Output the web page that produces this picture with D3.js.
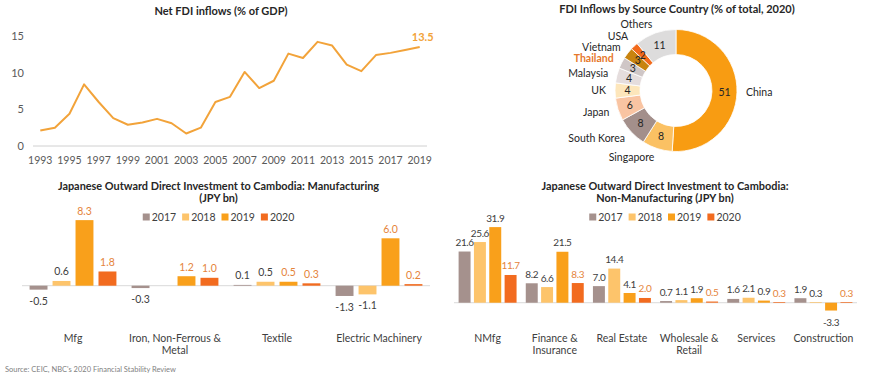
<!DOCTYPE html>
<html><head><meta charset="utf-8">
<script src="https://cdn.jsdelivr.net/npm/d3@7"></script>
<style>
html,body{margin:0;padding:0;background:#fff;}
svg{display:block;font-family:Lato,"Open Sans",sans-serif;}
</style></head>
<body>
<svg id="c" width="870" height="378"></svg>
<script>
// ---------- DATA ----------
const fdiYears = d3.range(1993, 2020);
const fdiValues = [2.1,2.5,4.4,8.4,6.0,3.8,2.9,3.2,3.7,3.1,1.7,2.5,6.0,6.7,10.1,7.9,8.9,12.6,12.0,14.2,13.7,11.1,10.2,12.4,12.7,13.1,13.5];
const fdiYTicks = [0,5,10,15];

const srcCountries = ["China","Singapore","South Korea","Japan","UK","Malaysia","Thailand","Vietnam","USA","Others"];
const srcShares    = [51,8,8,6,4,4,3,3,2,11];

const seriesYears = ["2017","2018","2019","2020"];

const mfgCategories = ["Mfg","Iron, Non-Ferrous & Metal","Textile","Electric Machinery"];
const mfg2017 = [-0.5,-0.3,0.1,-1.3];
const mfg2018 = [0.6,null,0.5,-1.1];
const mfg2019 = [8.3,1.2,0.5,6.0];
const mfg2020 = [1.8,1.0,0.3,0.2];

const nmfCategories = ["NMfg","Finance & Insurance","Real Estate","Wholesale & Retail","Services","Construction"];
const nmf2017 = [21.6,8.2,7.0,0.7,1.6,1.9];
const nmf2018 = [25.6,6.6,14.4,1.1,2.1,0.3];
const nmf2019 = [31.9,21.5,4.1,1.9,0.9,-3.3];
const nmf2020 = [11.7,8.3,2.0,0.5,0.3,0.3];

// ---------- STYLE ----------
const seriesColors = {"2017":"#A5918D","2018":"#FDC46B","2019":"#F9A01B","2020":"#F26B1F"};
const donutColors = ["#F89C12","#FBC163","#A38F8B","#F9C4A2","#FDE6BB","#E5DDDD","#CFC6C6","#C8830F","#F26A1B","#DDDCDC"];
const dark = "#404040", orangeText = "#E5843A";

const svg = d3.select("#c");

// ---------- LINE CHART ----------
(function(){
  const x = d3.scalePoint(fdiYears, [33,427]).padding(0.5);
  const y = d3.scaleLinear([0,15],[146,36]);
  const g = svg.append("g");
  g.append("text").attr("x",221).attr("y",15).attr("text-anchor","middle")
    .attr("font-size",11).attr("font-weight","bold").attr("fill","#262626").text("Net FDI inflows (% of GDP)");
  g.append("line").attr("x1",33).attr("x2",427).attr("y1",y(0)).attr("y2",y(0)).attr("stroke","#D0D0D0");
  g.selectAll(".yt").data(fdiYTicks).join("text").attr("x",24).attr("y",d=>y(d)+4)
    .attr("text-anchor","end").attr("font-size",11).attr("fill","#595959").text(d=>d);
  g.selectAll(".xt").data(fdiYears.filter((d,i)=>i%2===0)).join("text")
    .attr("x",d=>x(d)).attr("y",164).attr("text-anchor","middle").attr("font-size",10.5).attr("fill","#595959").text(d=>d);
  const line = d3.line().x((d,i)=>x(fdiYears[i])).y(d=>y(d));
  g.append("path").datum(fdiValues).attr("d",line).attr("fill","none").attr("stroke","#F2A33A").attr("stroke-width",2).attr("stroke-linejoin","round");
  const last = fdiValues.length-1;
  g.append("text").attr("x",x(fdiYears[last])+3).attr("y",y(fdiValues[last])-6).attr("text-anchor","middle")
    .attr("font-size",11).attr("font-weight","bold").attr("fill","#F2A33A").text(fdiValues[last].toFixed(1));
})();

// ---------- DONUT ----------
(function(){
  const cx=676, cy=90.5, ro=61, ri=36;
  const g = svg.append("g");
  g.append("text").attr("x",677).attr("y",13).attr("text-anchor","middle")
    .attr("font-size",11).attr("font-weight","bold").attr("fill","#262626").text("FDI Inflows by Source Country (% of total, 2020)");
  const data = srcCountries.map((c,i)=>({c, v:srcShares[i], i}));
  const arcs = d3.pie().value(d=>d.v).sort(null)(data);
  const arc = d3.arc().innerRadius(ri).outerRadius(ro);
  const mid = d3.arc().innerRadius((ri+ro)/2).outerRadius((ri+ro)/2);
  const gg = g.append("g").attr("transform",`translate(${cx},${cy})`);
  gg.selectAll("path").data(arcs).join("path").attr("d",arc).attr("fill",d=>donutColors[d.data.i]).attr("stroke","#fff").attr("stroke-width",0.8);
  gg.selectAll(".v").data(arcs).join("text").attr("transform",d=>`translate(${mid.centroid(d)})`)
    .attr("dy","0.35em").attr("text-anchor","middle").attr("font-size",10.5).attr("fill","#262626").text(d=>d.data.v);
  // outside labels, radial placement with simple vertical dodge on the left side
  const rl = 70;
  const labs = arcs.map(d=>{
    const a=(d.startAngle+d.endAngle)/2;
    return {d, x:rl*Math.sin(a), y:-rl*Math.cos(a), left:Math.sin(a)<0};
  });
  const left = labs.filter(l=>l.left && l.d.data.c!=="Others").sort((a,b)=>b.y-a.y);
  for(let k=1;k<left.length;k++){ if(left[k].y > left[k-1].y-11) left[k].y = left[k-1].y-11; }
  gg.selectAll(".l").data(labs).join("text")
    .attr("x",l=>l.x).attr("y",l=>l.y).attr("text-anchor",l=>l.left?"end":"start")
    .attr("dy","0.35em").attr("font-size",10.5)
    .attr("font-weight",l=>l.d.data.c==="Thailand"?"bold":"normal")
    .attr("fill",l=>l.d.data.c==="Thailand"?"#E6782B":"#262626").text(l=>l.d.data.c);
})();

// ---------- BAR CHARTS ----------
function wrap(sel, width){
  sel.each(function(){
    const t=d3.select(this), words=t.text().split(" "), x=t.attr("x"), y=t.attr("y");
    t.text(null);
    let line=[], ln=0, ts=t.append("tspan").attr("x",x).attr("y",y);
    for(const w of words){
      line.push(w); ts.text(line.join(" "));
      if(ts.node().getComputedTextLength()>width && line.length>1){
        line.pop(); ts.text(line.join(" ")); line=[w]; ln++;
        ts=t.append("tspan").attr("x",x).attr("y",+y+ln*12.4).text(w);
      }
    }
  });
}
function barChart(o){
  const g = svg.append("g");
  o.title.forEach((t,i)=>g.append("text").attr("x",o.cx).attr("y",o.titleY+i*12).attr("text-anchor","middle")
    .attr("font-size",10.9).attr("font-weight","bold").attr("fill","#262626").text(t));
  // legend
  const lg = g.append("g");
  let lx=0;
  seriesYears.forEach(s=>{
    lg.append("rect").attr("x",lx).attr("y",-3.5).attr("width",7).attr("height",7).attr("fill",seriesColors[s]);
    const t=lg.append("text").attr("x",lx+9).attr("y",4).attr("font-size",10.5).attr("fill",dark).text(s);
    lx += 9 + t.node().getComputedTextLength() + 6;
  });
  lx -= 6;
  lg.attr("transform",`translate(${o.cx-lx/2},${o.legendY})`);
  const x0 = d3.scaleBand(o.categories,o.xr);
  const x1 = d3.scaleBand(seriesYears,[0,x0.bandwidth()]).paddingInner(0.22).paddingOuter(o.po);
  const y = d3.scaleLinear(o.yd,o.yr);
  g.append("line").attr("x1",o.xr[0]).attr("x2",o.xr[1]).attr("y1",y(0)).attr("y2",y(0)).attr("stroke","#D9D9D9");
  const rows=[];
  o.categories.forEach((c,i)=>seriesYears.forEach((s,j)=>{ const v=o.values[j][i]; if(v!==null) rows.push({c,s,v}); }));
  g.selectAll(".b").data(rows).join("rect")
    .attr("x",d=>x0(d.c)+x1(d.s)).attr("width",x1.bandwidth())
    .attr("y",d=>y(Math.max(0,d.v))).attr("height",d=>Math.abs(y(d.v)-y(0))).attr("fill",d=>seriesColors[d.s]);
  g.selectAll(".vl").data(rows).join("text")
    .attr("x",d=>x0(d.c)+x1(d.s)+x1.bandwidth()/2)
    .attr("y",d=>d.v>=0? y(d.v)-5.5 : y(d.v)+15)
    .attr("text-anchor","middle").attr("font-size",o.vfs).attr("letter-spacing",o.vls)
    .attr("fill",d=>o.orange.includes(d.s)?orangeText:dark).text(d=>d.v.toFixed(1));
  g.selectAll(".cl").data(o.categories).join("text")
    .attr("x",d=>x0(d)+x0.bandwidth()/2).attr("y",342).attr("text-anchor","middle")
    .attr("font-size",10.5).attr("fill",dark).text(d=>d).call(wrap,o.wrapW);
}
barChart({
  title:["Japanese Outward Direct Investment to Cambodia: Manufacturing","(JPY bn)"],
  cx:218.5, titleY:190, legendY:217, categories:mfgCategories,
  values:[mfg2017,mfg2018,mfg2019,mfg2020], xr:[22,430], po:0.33,
  yd:[-2,9], yr:[301.5,214.6], orange:["2019","2020"], wrapW:100, vfs:10.5, vls:0
});
barChart({
  title:["Japanese Outward Direct Investment to Cambodia:","Non-Manufacturing (JPY bn)"],
  cx:665, titleY:190, legendY:217, categories:nmfCategories,
  values:[nmf2017,nmf2018,nmf2019,nmf2020], xr:[454,857], po:0.30,
  yd:[-4,33], yr:[312.2,224.5], orange:["2020"], wrapW:62, vfs:10, vls:-0.4
});

svg.append("text").attr("x",5).attr("y",372).attr("font-size",7.5).attr("fill","#7F7F7F")
  .text("Source: CEIC, NBC's 2020 Financial Stability Review");
</script>
</body></html>
